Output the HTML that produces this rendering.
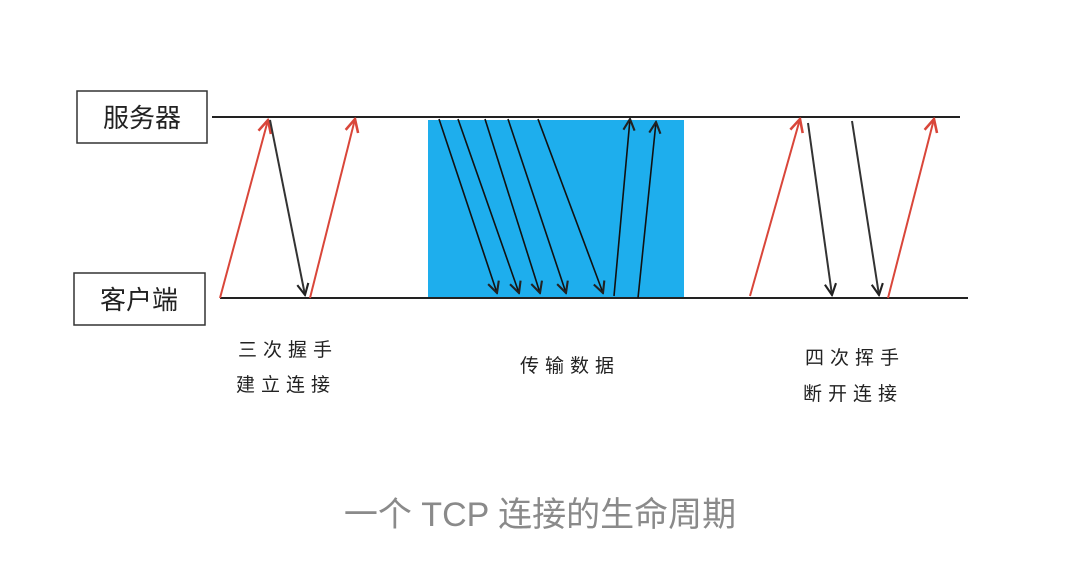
<!DOCTYPE html>
<html><head><meta charset="utf-8"><style>
html,body{margin:0;padding:0;background:#fff;}
svg{display:block;}
text{font-family:"Liberation Sans","Noto Sans CJK SC",sans-serif;}
</style></head><body>
<svg width="1084" height="568" viewBox="0 0 1084 568" xmlns="http://www.w3.org/2000/svg">
<defs>
<marker id="hb" viewBox="0 0 10 10" refX="9" refY="5" markerWidth="14" markerHeight="14" orient="auto" markerUnits="userSpaceOnUse"><path d="M1,1 L9,5 L1,9" fill="none" stroke="#222" stroke-width="1.5"/></marker>
<marker id="hr" viewBox="0 0 10 10" refX="9" refY="5" markerWidth="16" markerHeight="16" orient="auto" markerUnits="userSpaceOnUse"><path d="M1,1 L9,5 L1,9" fill="none" stroke="#d9463a" stroke-width="1.6"/></marker>
</defs>
<rect x="428" y="120" width="256" height="177" fill="#1eaeed"/>
<line x1="212" y1="117" x2="960" y2="117" stroke="#222" stroke-width="2"/>
<line x1="220" y1="298" x2="968" y2="298" stroke="#222" stroke-width="2"/>
<g>
<rect x="77" y="91" width="130" height="52" fill="#fff" stroke="#333" stroke-width="1.5"/>
<text x="142" y="127" font-size="26" text-anchor="middle" fill="#222">服务器</text></g>
<g>
<rect x="74" y="273" width="131" height="52" fill="#fff" stroke="#333" stroke-width="1.5"/>
<text x="139" y="309" font-size="26" text-anchor="middle" fill="#222">客户端</text></g>
<g>
<line x1="220" y1="298" x2="268" y2="120" stroke="#d9463a" stroke-width="2" marker-end="url(#hr)"/>
<line x1="270" y1="120" x2="305" y2="295" stroke="#333" stroke-width="2" marker-end="url(#hb)"/>
<line x1="310" y1="298" x2="355" y2="119" stroke="#d9463a" stroke-width="2" marker-end="url(#hr)"/>
</g>
<g>
<line x1="439" y1="119" x2="497" y2="293" stroke="#111" stroke-width="1.6" marker-end="url(#hb)"/>
<line x1="458" y1="119" x2="519" y2="293" stroke="#111" stroke-width="1.6" marker-end="url(#hb)"/>
<line x1="485" y1="119" x2="540" y2="293" stroke="#111" stroke-width="1.6" marker-end="url(#hb)"/>
<line x1="508" y1="119" x2="566" y2="293" stroke="#111" stroke-width="1.6" marker-end="url(#hb)"/>
<line x1="538" y1="119" x2="603" y2="293" stroke="#111" stroke-width="1.6" marker-end="url(#hb)"/>
<line x1="614" y1="296" x2="630" y2="119" stroke="#111" stroke-width="1.6" marker-end="url(#hb)"/>
<line x1="638" y1="298" x2="656" y2="122" stroke="#111" stroke-width="1.6" marker-end="url(#hb)"/>
</g>
<g>
<line x1="750" y1="296" x2="800" y2="119" stroke="#d9463a" stroke-width="2" marker-end="url(#hr)"/>
<line x1="808" y1="123" x2="832" y2="295" stroke="#333" stroke-width="2" marker-end="url(#hb)"/>
<line x1="852" y1="121" x2="879" y2="295" stroke="#333" stroke-width="2" marker-end="url(#hb)"/>
<line x1="888" y1="298" x2="934" y2="119" stroke="#d9463a" stroke-width="2" marker-end="url(#hr)"/>
</g>
<g font-size="19" fill="#222" letter-spacing="6">
<text x="238" y="356">三次握手</text>
<text x="236" y="391">建立连接</text>
<text x="520" y="372">传输数据</text>
<text x="805" y="364">四次挥手</text>
<text x="803" y="400">断开连接</text>
</g>
<text x="540" y="526" font-size="34" fill="#8a8a8a" text-anchor="middle">一个 TCP 连接的生命周期</text>
</svg>
</body></html>
